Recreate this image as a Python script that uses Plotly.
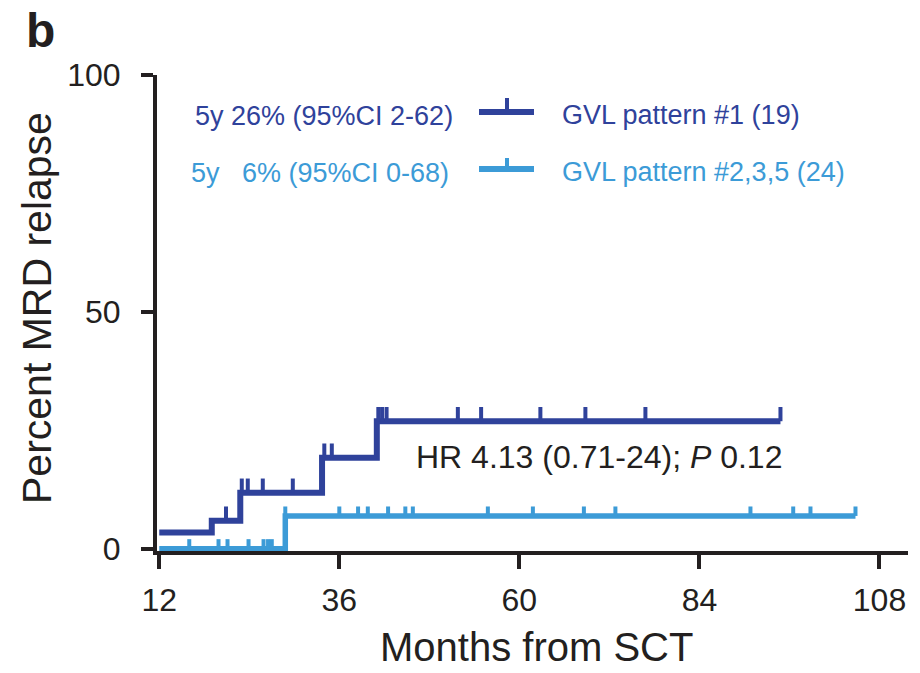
import numpy as np
import plotly.graph_objects as go

# ---- data ----
dark_step_t = [12, 19.0, 22.8, 33.7, 41.0, 94.8]
dark_step_y = [3.4, 5.9, 11.8, 19.2, 26.9, 26.9]
dark_censor_t = [18.9, 20.9, 23.0, 23.8, 25.8, 29.8, 34.0, 35.0, 41.2, 41.7, 42.3,
                 51.8, 54.9, 62.8, 68.8, 76.8, 94.8]

light_step_t = [12, 28.8, 104.8]
light_step_y = [0.0, 6.9, 6.9]
light_censor_t = [16.0, 19.9, 21.1, 23.9, 25.9, 26.5, 27.0, 28.8, 36.0, 38.5, 39.8,
                  42.5, 44.8, 45.8, 55.8, 61.8, 68.6, 72.8, 90.8, 96.5, 98.8, 104.8]

x_ticks = [12, 36, 60, 84, 108]
y_ticks = [0, 50, 100]

dark_name = "GVL pattern #1 (19)"
light_name = "GVL pattern #2,3,5 (24)"
dark_ci = "5y 26% (95%CI 2-62)"
light_ci = "5y &nbsp; 6% (95%CI 0-68)"
hr_text = "HR 4.13 (0.71-24); <i>P</i> 0.12"

DARK = "#2f429b"
LIGHT = "#3c9bd7"
INK = "#231f20"
FONT = "Arial, Liberation Sans, Helvetica, sans-serif"


def step_value(times, values, t):
    idx = np.searchsorted(np.asarray(times), np.asarray(t), side="right") - 1
    return np.asarray(values)[np.clip(idx, 0, len(values) - 1)]


fig = go.Figure()

for st, sy, ct, col, lw, th in [
    (dark_step_t, dark_step_y, dark_censor_t, DARK, 6, 3.0),
    (light_step_t, light_step_y, light_censor_t, LIGHT, 5.5, 2.0),
]:
    fig.add_trace(go.Scatter(x=st, y=sy, mode="lines", line=dict(color=col, width=lw, shape="hv"),
                             showlegend=False, hoverinfo="skip"))
    cy = step_value(st, sy, ct)
    fig.add_trace(go.Scatter(
        x=ct, y=cy, mode="markers",
        marker=dict(size=1, color="rgba(0,0,0,0)"),
        error_y=dict(type="data", symmetric=False, array=[th] * len(ct), arrayminus=[0] * len(ct),
                     color=col, thickness=4, width=0),
        showlegend=False, hoverinfo="skip"))

L, R, T, B = 157, 12, 75, 122

fig.update_layout(
    width=920, height=673,
    margin=dict(l=L, r=R, t=T, b=B),
    paper_bgcolor="white", plot_bgcolor="white",
    font=dict(family=FONT, color=INK),
    xaxis=dict(range=[11.7, 111.8], tickvals=x_ticks, ticktext=[str(v) for v in x_ticks],
               showgrid=False, zeroline=False, showline=True, linecolor=INK, linewidth=4,
               ticks="outside", ticklen=14, tickwidth=4, tickcolor=INK,
               tickfont=dict(size=32, color=INK, family=FONT), ticklabelstandoff=4),
    yaxis=dict(range=[-0.5, 100], tickvals=y_ticks, ticktext=[str(v) for v in y_ticks],
               showgrid=False, zeroline=False, showline=True, linecolor=INK, linewidth=4,
               ticks="outside", ticklen=12, tickwidth=4, tickcolor=INK,
               tickfont=dict(size=32, color=INK, family=FONT), ticklabelstandoff=14),
)

H = 673 - T - B
W = 920 - L - R


def px(x):
    return (x - L) / W


def py(y):
    return (673 - B - y) / H


ann = []
ann.append(dict(text="<b>b</b>", x=0, y=1, xref="paper", yref="paper", xanchor="left", yanchor="top",
                xshift=-L + 24, yshift=T - 2, showarrow=False, font=dict(size=48, color=INK, family=FONT)))
ann.append(dict(text="Percent MRD relapse", x=px(37), y=py(308), xref="paper", yref="paper",
                textangle=-90, xanchor="center", yanchor="middle", showarrow=False,
                font=dict(size=41, color=INK, family=FONT)))
ann.append(dict(text="Months from SCT", x=px(536), y=py(647), xref="paper", yref="paper",
                xanchor="center", yanchor="middle", showarrow=False,
                font=dict(size=40, color=INK, family=FONT)))
ann.append(dict(text=dark_ci, x=px(193), y=py(116), xref="paper", yref="paper", xanchor="left",
                yanchor="middle", showarrow=False, font=dict(size=27, color=DARK, family=FONT)))
ann.append(dict(text=light_ci, x=px(189), y=py(173), xref="paper", yref="paper", xanchor="left",
                yanchor="middle", showarrow=False, font=dict(size=27, color=LIGHT, family=FONT)))
ann.append(dict(text=dark_name, x=px(560), y=py(115), xref="paper", yref="paper", xanchor="left",
                yanchor="middle", showarrow=False, font=dict(size=27, color=DARK, family=FONT)))
ann.append(dict(text=light_name, x=px(560), y=py(172), xref="paper", yref="paper", xanchor="left",
                yanchor="middle", showarrow=False, font=dict(size=27, color=LIGHT, family=FONT)))
ann.append(dict(text=hr_text, x=px(414), y=py(457), xref="paper", yref="paper", xanchor="left",
                yanchor="middle", showarrow=False, font=dict(size=32, color=INK, family=FONT)))
fig.update_layout(annotations=ann)

shapes = []
for col, yline, ytop in [(DARK, 112, 98), (LIGHT, 169, 158)]:
    shapes.append(dict(type="line", xref="paper", yref="paper", x0=px(479), x1=px(534),
                       y0=py(yline), y1=py(yline), line=dict(color=col, width=6)))
    shapes.append(dict(type="line", xref="paper", yref="paper", x0=px(507), x1=px(507),
                       y0=py(yline), y1=py(ytop), line=dict(color=col, width=4)))
fig.update_layout(shapes=shapes)

fig.write_html("out.html")
